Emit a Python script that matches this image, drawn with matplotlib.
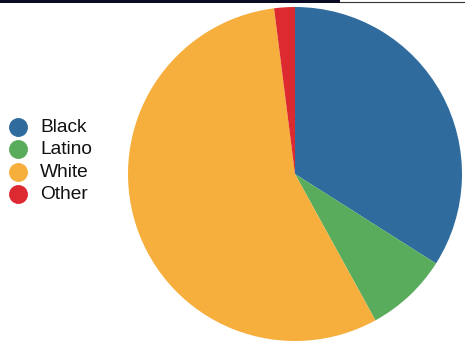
import matplotlib
matplotlib.use("Agg")
import matplotlib.pyplot as plt

# population share by group
groups = ["Black", "Latino", "White", "Other"]
shares = [34, 8, 56, 2]
colors = ["#2f6b9d", "#58ac5c", "#f6ae3c", "#dd2930"]

W, H = 465, 344
fig = plt.figure(figsize=(W / 100, H / 100), dpi=100)

# pie: centre (295, 174) px, radius 167 px
cx, cy, r = 295, 174, 167
ax = fig.add_axes([(cx - r) / W, (H - cy - r) / H, 2 * r / W, 2 * r / H])
ax.pie(shares, colors=colors, startangle=90, counterclock=False,
       radius=1, wedgeprops=dict(linewidth=0))
ax.set_xlim(-1, 1)
ax.set_ylim(-1, 1)
ax.set_aspect("auto")
ax.axis("off")

# overlay in pixel coords for the legend and the header rule
ov = fig.add_axes([0, 0, 1, 1], facecolor="none")
ov.set_xlim(0, W)
ov.set_ylim(H, 0)
ov.axis("off")

ov.fill_between([0, 340], 0, 2.6, color="#0b0b26", lw=0)
ov.plot([340, W], [2.2, 2.2], color="#333333", lw=0.8)

for i, (g, c) in enumerate(zip(groups, colors)):
    y = 126.5 + i * 22.6
    ov.scatter([17.5], [y], s=185, color=c, lw=0)
    ov.text(40, y + 0.5, g, fontsize=13.8, family="Liberation Sans",
            va="center", ha="left", color="#111111")

fig.savefig("out.png", dpi=100)
